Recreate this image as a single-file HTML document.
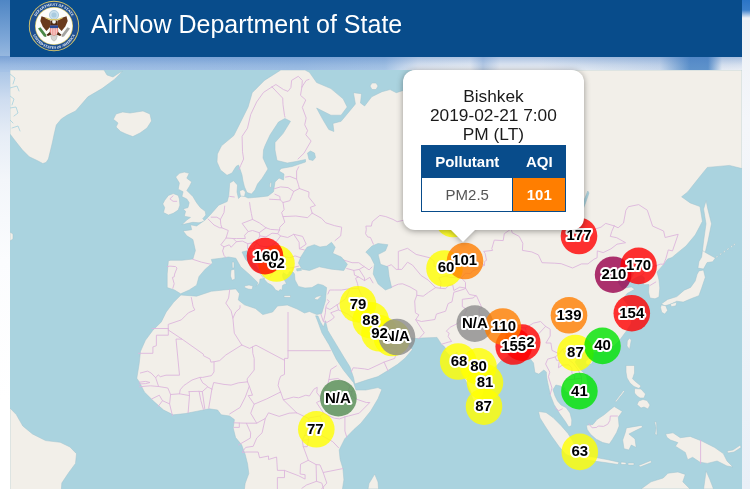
<!DOCTYPE html>
<html><head><meta charset="utf-8"><title>AirNow Department of State</title>
<style>
html,body{margin:0;padding:0}
body{width:750px;height:489px;overflow:hidden;position:relative;font-family:"Liberation Sans",Arial,sans-serif;background:#fff}
#sky{position:absolute;left:0;top:0;width:750px;height:489px;background:linear-gradient(180deg,#4f86c4 0px,#7fa8d8 40px,#a9c5e6 70px,#cfddf0 100px,#e6edf6 135px,#f3f6fa 180px,#fbfcfe 260px,#ffffff 400px)}
#strip{position:absolute;left:0;top:56px;width:750px;height:16px;background:linear-gradient(180deg,rgba(60,115,190,.42) 0px,rgba(60,115,190,.12) 9px,rgba(60,115,190,0) 15px),linear-gradient(90deg,#a5c2e6 0px,#9fbfe4 300px,#a9c6e6 385px,#e9eef5 418px,#f4f6f9 470px,#c3d4ea 483px,#f2f4f8 500px,#f2f4f8 540px,#dde6f1 600px,#cddbed 660px,#5f93cb 690px,#5f93cb 708px,#e8edf4 722px,#eef1f6 750px)}
#right{position:absolute;left:742px;top:0;width:8px;height:489px;background:linear-gradient(180deg,#2a74c6 0px,#3a7fcb 10px,#eef1f6 18px,#f4f6fa 120px,#f1f4f9 300px,#e9eff7 489px)}
#hdr{position:absolute;left:10px;top:0;width:732px;height:56.5px;background:#084c8b}
#hdr .t{position:absolute;left:81px;top:4.5px;font-size:25px;line-height:38px;color:#fff;white-space:nowrap}
#seal{position:absolute;left:18px;top:0px}
#map{position:absolute;left:10px;top:70px;width:732px;height:419px;overflow:hidden;background:#aad3df}
#map svg{position:absolute;left:0;top:0}
.lab text{font:bold 15px "Liberation Sans",Arial,sans-serif;text-anchor:middle;fill:#000;stroke:#fff;stroke-width:4px;stroke-linejoin:round;paint-order:stroke}
#pop{position:absolute;left:402.8px;top:69.8px;width:181.2px;height:160.2px;background:#fff;border-radius:12px;text-align:center;color:#222}
#pop .tx{position:absolute;left:0;top:17.7px;width:100%;font-size:17.3px;line-height:18.8px;color:#1a1a1a}
#pop table{position:absolute;left:18.2px;top:75.2px;width:145px;border-collapse:collapse;font-size:15px}
#pop th{background:#084c8b;color:#fff;height:31px;padding:0;font-weight:bold;border:1px solid #084c8b}
#pop td{height:33px;padding:0;border:1px solid #084c8b;color:#555}
#pop td.v{background:#ff7e00;color:#fff;font-weight:bold}
#pw{position:absolute;left:0;top:0;width:750px;height:489px;filter:drop-shadow(0 1px 3px rgba(0,0,0,.38))}
#tip{position:absolute;left:450.5px;top:229.5px;width:0;height:0;border-left:12.7px solid transparent;border-right:12.7px solid transparent;border-top:12.7px solid #fff}
</style></head><body>
<div id="sky"></div><div id="strip"></div><div id="right"></div>
<div id="hdr">
<svg id="seal" width="52" height="52" viewBox="-26 -26 52 52">
<circle r="25.2" fill="#d8c76a"/><circle r="24.3" fill="#1d4f91"/><circle r="19" fill="#d8c76a"/><circle r="18.3" fill="#fdfdfb"/>
<g font-family="Liberation Serif,serif" font-size="3.6" font-weight="bold" fill="#fff"><text x="-18.02 -16.67 -15.17 -13.63 -11.59 -9.35 -7.17 -3.89 -1.50 1.10 3.48 4.38 7.06 9.07 9.87 11.58 13.48 15.31 16.78" y="-9.43 -11.65 -13.53 -15.10 -16.72 -18.06 -19.07 -19.96 -20.29 -20.31 -20.00 -19.87 -19.06 -18.17 -17.77 -16.71 -15.24 -13.39 -11.49" rotate="-58.7 -51.7 -45.2 -38.4 -31.1 -24.0 -15.8 -7.6 -0.6 6.5 11.1 16.4 23.4 27.8 31.9 38.1 45.2 52.2 59.0">DEPARTMENT OF STATE</text><text x="-20.98 -19.82 -18.38 -17.53 -15.89 -14.08 -11.93 -11.16 -9.38 -7.14 -4.62 -2.25 0.15 2.15 3.05 5.80 7.89 8.74 11.10 13.92 15.75 17.51 18.40 19.82" y="9.02 11.35 13.52 14.63 16.39 17.98 19.44 19.91 20.82 21.69 22.36 22.72 22.82 22.70 22.64 22.08 21.40 21.10 19.99 18.09 16.53 14.62 13.53 11.35" rotate="63.5 56.9 51.9 47.1 41.1 34.8 30.4 26.8 21.2 14.9 8.7 2.6 -2.9 -6.5 -11.2 -17.5 -21.4 -25.8 -33.3 -40.6 -46.9 -51.9 -56.9 -63.5">UNITED STATES OF AMERICA</text></g>
<circle cx="0" cy="-11" r="4.6" fill="#c9e0ee" stroke="#9bbfd6" stroke-width=".7"/>
<circle cx="0" cy="-11" r="2.6" fill="#a9cbe0"/>
<path d="M-3.3 0.6 L-3.9 -5.5 L-8.8 -8.6 L-12.5 -9.8 L-13.7 -4.9 L-11.3 0.6 L-7.6 4.9 Z" fill="#6a3a1c"/>
<path d="M3.3 0.6 L3.9 -5.5 L8.8 -8.6 L12.5 -9.8 L13.7 -4.9 L11.3 0.6 L7.6 4.9 Z" fill="#6a3a1c"/>
<path d="M-3.6 -5.5 L3.6 -5.5 L4.2 6 L7.7 9 L6 10 L2.5 8.5 L0 10 L-2.5 8.5 L-6 10 L-7.7 9 L-4.2 6 Z" fill="#4f2a12"/>
<path d="M-3.4 9.6 L3.4 9.6 L2.2 13.5 L0 15.2 L-2.2 13.5 Z" fill="#d5d5d2" stroke="#9a9a96" stroke-width=".4"/>
<circle cx="0" cy="-4.2" r="1.9" fill="#f4f4f0"/>
<path d="M-4 -0.6 H4 V5.2 Q4 8.4 0 9.8 Q-4 8.4 -4 5.2 Z" fill="#ee8f8a"/>
<path d="M-2.4 2 V8.6 M-0.8 2 V9.4 M0.8 2 V9.4 M2.4 2 V8.6" stroke="#fbe9e7" stroke-width=".7"/>
<rect x="-4" y="-0.6" width="8" height="2.7" fill="#2a4a96"/>
<path d="M-16 2.5 L-13.5 1.2 L-8 8.5 L-7.6 11 L-10 10.5 Z" fill="#4a8746"/>
<path d="M16 2.5 L13.5 1.2 L8 8.5 L7.6 11 L10 10.5 Z" fill="#a3a3a0"/>
<path d="M-8.5 -8.2 Q-4 -5.6 0 -6.6 Q4 -5.6 8.5 -8.2" stroke="#d8c76a" stroke-width="1.1" fill="none"/>
</svg>
<div class="t">AirNow Department of State</div></div>
<div id="map"><svg width="732" height="419" viewBox="10 70 732 419">
<rect x="10" y="70" width="732" height="419" fill="#aad3df"/>
<g fill="#f2efe9" stroke="#9fc3cf" stroke-width=".5" stroke-linejoin="round"><path d="M10.0 70.0 L104.0 70.0 L107.0 75.0 L113.0 77.0 L119.0 73.0 L122.6 71.2 L114.4 79.4 L102.0 88.6 L87.9 96.8 L81.7 104.0 L75.6 111.0 L67.4 115.0 L61.3 119.0 L56.3 125.0 L54.2 134.0 L52.5 142.0 L50.6 150.0 L48.4 159.0 L46.0 162.5 L42.8 163.5 L37.1 160.5 L29.3 156.8 L22.5 150.0 L16.9 143.0 L13.0 138.0 L10.0 134.0Z"/><path d="M113.4 119.3 L116.0 114.0 L122.6 112.0 L130.0 113.0 L143.0 111.0 L150.0 114.0 L151.5 121.0 L147.0 128.0 L140.0 133.0 L132.8 136.6 L126.0 134.0 L120.6 131.5 L116.0 127.0 L118.0 123.0Z"/><path d="M10.0 408.0 L16.3 414.6 L22.8 426.0 L32.5 434.0 L45.6 440.6 L60.2 442.3 L70.0 447.0 L76.5 453.7 L75.5 463.4 L68.3 473.2 L61.8 483.0 L61.2 492.0 L10.0 492.0Z"/><path d="M10.0 232.0 L13.0 234.0 L13.0 239.0 L10.0 241.0Z"/><path d="M179.4 173.3 L184.3 172.1 L189.2 173.3 L186.8 178.2 L191.7 181.9 L189.2 186.8 L186.8 190.5 L192.9 196.6 L196.6 202.7 L200.3 207.6 L205.2 211.3 L205.9 215.0 L202.7 218.7 L205.2 221.1 L199.0 222.8 L192.9 222.3 L186.8 223.6 L181.9 224.8 L186.8 219.9 L190.5 217.4 L184.3 216.2 L185.6 211.3 L183.1 208.9 L188.0 207.6 L189.2 202.7 L186.8 199.0 L181.9 196.6 L183.1 191.7 L178.2 189.2 L179.4 183.1 L175.7 177.0Z"/><path d="M164.7 200.3 L168.4 195.4 L173.3 193.6 L178.2 195.4 L179.4 199.0 L179.9 205.2 L178.2 210.1 L173.3 213.3 L168.4 215.0 L163.5 212.5 L164.7 207.6 L162.8 203.9Z"/><path d="M280.8 70.0 L264.4 80.4 L252.2 92.7 L248.1 107.0 L239.9 123.4 L233.8 135.6 L221.5 145.8 L217.4 154.0 L217.0 162.0 L220.5 170.0 L227.0 175.3 L232.0 173.0 L236.0 166.5 L238.5 165.0 L240.0 169.0 L242.0 175.0 L243.0 181.0 L244.5 187.0 L247.0 192.5 L251.5 194.0 L255.0 190.0 L257.5 184.0 L262.0 178.5 L268.0 169.0 L263.0 158.0 L263.5 150.0 L265.0 145.8 L270.0 135.0 L278.5 122.0 L284.9 118.5 L290.5 121.3 L283.0 133.6 L275.0 142.5 L275.0 150.0 L277.0 160.5 L287.3 163.0 L296.0 161.5 L305.5 159.5 L305.5 162.0 L292.2 166.5 L281.2 168.4 L279.0 171.0 L284.0 174.0 L283.5 180.0 L279.0 178.0 L275.0 181.9 L273.5 191.7 L268.0 196.0 L260.3 196.9 L248.0 198.0 L242.0 195.0 L238.5 198.5 L237.0 192.0 L237.5 185.0 L233.5 180.7 L229.7 183.1 L228.8 195.4 L227.2 201.5 L218.7 205.2 L210.1 215.0 L205.2 219.9 L196.6 226.0 L190.5 224.8 L191.7 229.7 L183.1 230.9 L186.8 235.8 L192.9 239.5 L195.4 250.5 L192.9 259.0 L181.9 260.3 L170.8 260.3 L168.4 260.7 L167.2 274.0 L167.2 287.6 L174.5 290.0 L180.7 293.8 L189.2 290.0 L196.6 285.2 L199.0 276.6 L205.2 269.2 L212.5 263.0 L211.3 259.4 L221.1 258.2 L228.5 257.0 L235.8 258.2 L240.7 266.8 L250.5 275.4 L257.9 282.7 L256.0 286.5 L259.5 283.0 L260.0 279.0 L265.0 278.5 L262.0 274.0 L255.4 270.5 L245.6 259.4 L242.0 252.0 L246.9 250.8 L249.0 255.0 L253.0 261.9 L259.0 270.0 L260.5 274.0 L264.0 279.0 L267.5 283.0 L271.5 285.0 L273.5 287.0 L275.5 290.0 L278.5 291.3 L280.0 289.5 L282.0 290.3 L282.5 285.5 L284.5 284.2 L286.6 284.0 L285.0 281.0 L283.0 278.0 L282.5 275.0 L283.4 272.7 L286.5 274.8 L288.8 273.8 L289.0 271.8 L293.0 272.0 L294.5 274.0 L295.0 280.0 L298.4 286.4 L305.0 288.0 L311.9 287.6 L318.0 284.0 L322.9 285.2 L326.6 287.6 L325.4 301.0 L321.7 313.4 L316.8 314.6 L309.4 311.5 L304.5 313.0 L297.1 309.0 L287.3 305.0 L277.5 306.0 L272.6 312.0 L262.8 314.6 L255.4 308.5 L244.4 304.8 L238.3 299.9 L239.5 293.8 L235.8 288.9 L223.6 290.0 L211.3 291.3 L196.6 296.2 L180.9 295.0 L173.6 302.3 L166.2 312.0 L161.3 321.9 L152.7 330.5 L145.4 340.3 L140.5 351.3 L139.2 363.6 L136.8 378.3 L139.6 382.4 L144.4 392.0 L154.0 401.6 L163.6 410.0 L173.2 414.8 L185.2 413.6 L197.2 411.2 L209.2 408.8 L217.6 410.0 L221.2 414.8 L229.6 416.0 L234.4 419.6 L233.2 428.0 L235.6 437.6 L241.6 444.8 L245.2 454.4 L247.6 464.0 L248.8 473.6 L245.2 483.2 L244.0 492.0 L342.0 492.0 L343.9 479.7 L342.9 468.5 L340.1 459.2 L339.2 449.9 L344.8 438.7 L354.1 429.3 L360.9 423.2 L370.7 411.0 L378.0 398.7 L381.8 389.5 L378.0 387.6 L365.8 390.0 L356.0 390.0 L353.6 382.7 L343.8 370.5 L336.4 359.4 L329.0 344.7 L322.0 333.0 L318.0 322.0 L315.6 315.8 L318.0 316.0 L320.5 322.0 L323.5 327.0 L325.4 320.7 L327.8 330.5 L336.4 344.7 L343.8 357.0 L349.9 366.8 L353.6 377.8 L354.8 384.0 L365.8 380.3 L378.0 376.6 L387.9 370.5 L397.7 364.3 L405.0 358.2 L412.4 349.6 L407.2 344.6 L399.7 339.5 L399.4 334.4 L397.9 336.4 L393.0 341.9 L385.8 342.2 L382.6 341.1 L382.6 335.2 L380.5 335.2 L379.8 339.9 L377.7 337.1 L377.3 332.4 L372.7 328.4 L370.2 323.1 L369.5 319.5 L372.0 318.2 L376.2 318.2 L379.8 323.1 L382.3 327.6 L386.2 329.6 L393.7 332.8 L399.0 330.8 L401.8 332.0 L402.9 336.8 L417.0 338.6 L422.0 338.0 L437.0 337.4 L441.8 344.7 L443.8 346.1 L446.3 349.2 L444.5 350.0 L449.5 355.3 L455.6 354.2 L457.0 351.9 L458.0 362.1 L461.6 373.3 L466.6 382.5 L470.5 390.9 L472.6 398.9 L474.8 402.1 L477.3 399.2 L480.8 397.8 L483.3 393.8 L484.7 384.0 L484.0 375.6 L489.0 371.9 L495.4 367.0 L501.4 360.6 L507.8 356.5 L508.6 352.7 L513.2 351.9 L521.0 349.6 L525.6 349.6 L527.4 355.3 L533.5 362.9 L534.9 372.6 L538.8 374.1 L543.8 370.0 L546.3 371.9 L546.6 377.0 L547.6 382.3 L550.4 395.2 L554.0 404.4 L559.6 413.6 L565.0 421.0 L568.8 427.0 L571.5 425.5 L571.8 420.0 L570.0 413.0 L566.0 407.5 L561.0 405.0 L557.5 401.0 L555.0 396.0 L553.0 389.7 L555.9 385.0 L560.5 386.0 L563.0 388.0 L565.5 391.6 L570.8 393.8 L571.9 400.3 L577.9 395.2 L581.5 393.4 L587.5 388.7 L587.9 384.4 L586.5 375.9 L581.5 370.7 L577.9 366.6 L575.1 362.1 L578.6 356.5 L582.5 352.7 L585.0 352.3 L589.3 352.7 L591.4 357.2 L592.1 353.4 L602.8 350.0 L605.3 349.6 L614.2 345.7 L619.0 341.0 L626.4 331.0 L631.0 324.0 L632.0 317.0 L630.0 312.0 L629.1 306.5 L623.1 298.8 L627.0 293.6 L634.8 289.2 L631.3 286.9 L622.4 288.3 L618.1 282.4 L618.8 279.2 L624.2 276.4 L629.5 271.8 L633.8 273.2 L630.2 281.0 L638.4 276.4 L641.6 275.5 L644.4 277.8 L643.7 284.7 L649.0 284.5 L648.5 292.0 L650.0 298.0 L655.0 298.8 L659.0 297.0 L659.8 288.0 L659.0 280.0 L657.0 272.0 L663.2 264.9 L667.6 259.0 L672.0 257.5 L676.8 253.4 L686.0 246.0 L695.2 235.0 L700.0 226.0 L702.4 221.3 L700.0 206.6 L690.2 202.9 L681.6 196.8 L687.7 191.9 L697.5 179.6 L707.3 167.4 L729.4 165.4 L742.0 168.6 L742.0 70.0 L412.0 70.0 L412.0 90.7 L402.4 90.7 L396.3 92.7 L390.1 89.6 L382.0 91.7 L371.7 96.8 L364.6 106.0 L360.5 103.0 L361.5 93.7 L353.4 92.7 L355.4 104.0 L351.3 109.0 L341.1 121.3 L332.9 123.4 L333.9 131.5 L328.8 129.5 L322.7 119.3 L316.6 108.0 L330.9 115.2 L341.1 115.2 L347.2 107.0 L343.1 98.8 L330.9 88.6 L316.6 82.5 L309.4 72.3 L305.0 70.0Z"/><path d="M244.4 286.0 L249.0 285.0 L253.0 286.0 L252.0 289.5 L248.0 289.0 L244.6 287.5Z"/><path d="M231.0 270.0 L234.6 269.2 L235.0 279.0 L232.0 280.3 L230.5 276.0Z"/><path d="M232.1 262.0 L234.0 262.0 L234.0 268.0 L232.3 268.0Z"/><path d="M284.0 295.5 L290.5 295.5 L290.5 297.5 L284.0 297.3Z"/><path d="M314.5 298.0 L317.0 296.5 L322.0 295.3 L319.5 298.0 L317.5 299.8 L315.0 299.5Z"/><path d="M370.0 86.0 L372.0 83.0 L376.0 83.0 L378.0 86.0 L376.0 89.5 L372.0 89.5Z"/><path d="M239.5 191.0 L243.0 189.5 L245.5 192.0 L244.5 196.5 L240.5 196.0Z"/><path d="M270.0 183.0 L271.5 182.0 L271.0 187.5 L269.5 187.0Z"/><path d="M715.6 257.3 L717.1 255.7 L718.2 256.1 L716.7 257.7Z"/><path d="M719.3 254.7 L720.8 253.1 L721.9 253.5 L720.4 255.1Z"/><path d="M723.0 252.2 L724.5 250.6 L725.6 251.0 L724.1 252.6Z"/><path d="M726.6 249.6 L728.1 248.0 L729.2 248.4 L727.7 250.0Z"/><path d="M730.3 247.0 L731.8 245.4 L732.9 245.8 L731.4 247.4Z"/><path d="M732.9 245.2 L734.4 243.6 L735.5 244.0 L734.0 245.6Z"/><path d="M706.1 200.5 L707.8 209.0 L711.5 223.8 L708.0 241.0 L704.5 255.6 L702.0 254.4 L703.6 241.0 L706.0 223.8 L703.6 209.0Z"/><path d="M702.5 250.6 L707.1 253.4 L715.4 258.0 L712.7 261.7 L707.1 262.6 L703.5 269.0 L697.9 268.1 L698.9 261.7 L701.6 257.1Z"/><path d="M698.9 270.9 L703.5 270.0 L705.3 277.3 L701.6 288.3 L698.9 295.7 L691.5 298.5 L683.2 302.1 L676.8 301.2 L671.3 304.0 L664.8 305.8 L661.2 304.0 L667.6 299.4 L676.8 296.6 L684.2 290.2 L690.6 287.4 L695.2 281.0 L697.0 274.6Z"/><path d="M661.2 304.9 L665.8 305.8 L667.6 310.4 L664.8 314.1 L661.7 312.3 L660.6 307.7Z"/><path d="M670.4 304.0 L676.8 302.1 L675.9 305.8 L671.3 306.7Z"/><path d="M629.5 338.0 L631.3 340.0 L629.5 349.5 L627.0 346.0 L627.3 341.0Z"/><path d="M585.7 361.0 L588.9 358.4 L593.9 359.5 L591.8 363.6 L588.2 365.1 L585.7 363.6Z"/><path d="M626.0 365.5 L634.5 365.5 L634.5 373.0 L632.5 378.8 L636.0 382.0 L641.0 386.0 L639.0 388.5 L634.0 386.5 L630.0 383.0 L627.0 378.0 L626.0 372.0Z"/><path d="M634.5 388.6 L641.0 389.0 L645.5 394.0 L644.0 398.0 L640.0 398.0 L637.0 396.0 L634.5 393.0Z"/><path d="M638.7 401.0 L643.0 399.5 L647.0 400.5 L650.0 405.0 L648.0 409.0 L644.0 407.0 L641.0 408.0 L637.0 404.5Z"/><path d="M615.0 401.5 L623.5 390.5 L624.5 391.5 L616.2 402.0Z"/><path d="M614.2 406.5 L622.4 411.4 L618.3 417.1 L619.1 426.1 L616.6 432.6 L612.6 439.2 L609.3 444.1 L602.7 442.5 L596.2 439.2 L590.5 434.3 L587.2 429.4 L586.4 425.3 L592.9 424.5 L597.0 419.5 L604.4 414.6 L610.1 409.7Z"/><path d="M626.4 427.9 L641.1 425.4 L643.0 427.0 L636.2 430.3 L628.9 434.0 L635.0 438.9 L636.2 447.5 L631.3 445.0 L628.9 450.0 L624.0 448.7 L622.7 440.0 L625.2 432.8Z"/><path d="M654.6 421.7 L656.5 422.0 L657.0 435.2 L655.0 434.0 L656.0 428.0Z"/><path d="M665.6 434.0 L673.0 432.8 L680.3 437.7 L690.2 436.4 L702.4 441.3 L714.7 447.5 L723.3 453.6 L727.0 461.0 L733.0 467.0 L727.0 466.0 L717.1 461.0 L707.3 463.4 L700.0 462.2 L692.6 457.3 L687.7 459.7 L685.3 452.4 L675.4 446.2 L677.9 442.6 L670.5 440.0 L667.0 437.5Z"/><path d="M727.0 451.0 L733.0 450.0 L740.4 445.0 L741.0 447.5 L734.0 452.0 L728.0 453.0Z"/><path d="M538.5 411.5 L546.0 412.5 L553.0 417.5 L561.0 425.5 L568.0 433.5 L573.0 441.5 L576.5 450.0 L577.0 456.0 L572.0 457.0 L566.0 454.5 L559.0 446.5 L551.5 436.0 L545.0 426.0 L540.0 418.0Z"/><path d="M573.0 454.0 L580.0 455.0 L594.5 457.3 L607.0 459.5 L619.0 462.2 L618.0 464.5 L605.0 462.5 L590.0 460.5 L575.0 457.5Z"/><path d="M621.0 462.0 L626.0 462.5 L626.0 464.5 L621.0 464.5Z"/><path d="M628.0 463.0 L634.0 463.0 L634.0 465.0 L628.0 465.0Z"/><path d="M638.7 465.5 L650.9 460.5 L651.5 462.5 L640.0 467.0Z"/><path d="M641.0 489.0 L651.0 481.8 L663.2 478.0 L668.0 473.2 L677.9 472.0 L685.3 474.4 L682.8 481.8 L690.0 489.0Z"/><path d="M703.6 489.0 L706.1 470.8 L709.8 479.3 L713.5 489.0Z"/><path d="M368.0 489.0 L369.0 483.5 L374.7 474.1 L378.0 482.0 L378.6 489.0Z"/><path d="M482.9 396.7 L487.9 400.7 L490.1 406.0 L486.1 409.6 L483.7 408.5 L482.9 402.5Z"/></g>
<g fill="none" stroke="#aad3df" stroke-width="1" stroke-opacity=".85" stroke-linecap="round"><path d="M10 74 L15 78 L13 84"/><path d="M10 88 L17 86 L19 91"/><path d="M10 96 L14 99 L12 105"/><path d="M10 108 L16 107 L18 113 L14 116"/><path d="M10 120 L13 123"/><path d="M12 128 L18 126 L20 131"/></g>
<g fill="none" stroke="#dcb6dc" stroke-width=".9" stroke-linejoin="round" stroke-linecap="round"><path d="M272.0 86.9 L263.5 92.4 L256.7 101.9 L250.7 114.5 L247.5 128.2 L242.1 136.3 L242.5 151.7 L243.6 159.0 L240.7 165.4 L238.9 169.6"/><path d="M272.0 86.9 L275.9 84.5 L283.4 89.5 L288.0 91.4 L290.9 87.5 L291.6 80.4 L298.3 76.3 L302.3 80.4 L301.9 87.0"/><path d="M301.9 87.0 L306.2 80.4 L309.0 79.4"/><path d="M272.0 86.9 L282.7 98.1 L283.0 104.7 L284.5 115.4 L285.0 117.1"/><path d="M301.9 87.0 L300.5 95.3 L305.8 100.0 L302.3 107.4 L306.2 118.0 L304.7 124.8 L307.6 130.6 L305.8 134.7 L311.1 141.0 L304.0 153.2 L298.0 159.0"/><path d="M298.7 166.8 L296.6 171.0 L296.6 179.1 L298.3 184.3 L299.4 188.5"/><path d="M285.5 177.1 L289.8 176.4 L296.6 179.1"/><path d="M274.0 188.8 L280.6 186.9 L288.0 187.6 L293.7 191.4 L299.4 188.5"/><path d="M293.7 191.4 L291.6 196.4 L289.8 200.7 L283.0 202.5 L280.2 199.8 L269.5 199.2"/><path d="M280.2 199.8 L279.8 196.4 L274.9 194.2"/><path d="M299.4 188.5 L309.0 192.0 L308.7 197.0 L315.4 205.5 L310.4 207.3 L312.2 213.1"/><path d="M312.2 213.1 L307.6 217.7 L295.9 216.0 L283.0 216.6"/><path d="M283.0 202.5 L284.1 209.6 L281.6 212.6 L283.0 216.6 L284.8 222.2 L279.8 227.2 L279.5 230.0"/><path d="M312.2 213.1 L321.5 218.3 L325.7 222.8 L334.3 225.6 L341.7 227.2 L340.7 235.9 L335.0 240.6"/><path d="M249.6 202.5 L250.3 207.9 L251.4 213.7 L252.5 219.4 L259.2 222.8 L266.0 227.8 L270.6 229.4 L279.5 230.0"/><path d="M252.5 219.4 L242.1 223.4 L248.2 231.6 L252.5 230.5 L259.2 232.7 L266.0 227.8"/><path d="M248.2 231.6 L244.6 235.3 L245.3 238.5 L236.4 238.5 L233.2 238.5 L226.1 238.0"/><path d="M229.7 196.4 L234.3 197.0"/><path d="M224.7 206.1 L224.0 212.6 L220.4 219.4 L216.9 217.2 L211.2 217.2"/><path d="M220.4 219.4 L220.8 224.5 L221.9 227.8"/><path d="M208.0 218.9 L214.0 225.0 L219.7 227.8 L221.9 227.8 L228.3 230.5 L226.1 238.0 L220.8 244.8 L224.0 246.8 L222.6 250.9 L224.0 255.4 L225.8 257.4"/><path d="M233.2 238.5 L236.4 241.7 L231.1 247.3 L229.3 244.8 L224.0 246.8"/><path d="M236.4 241.7 L242.5 241.1 L247.8 243.7 L247.5 248.3"/><path d="M247.8 243.7 L256.4 242.2 L259.9 235.9 L259.2 232.7"/><path d="M259.9 235.9 L266.0 236.9 L272.0 233.2 L277.7 233.7 L279.5 230.0"/><path d="M277.7 233.7 L280.6 235.9 L275.6 242.7 L271.3 245.8 L266.3 246.8 L259.6 245.8 L257.4 243.2 L256.4 242.2"/><path d="M247.5 248.8 L253.5 248.8 L254.9 245.3 L257.4 243.2"/><path d="M255.3 250.4 L259.6 250.4 L266.7 251.9 L266.3 246.8"/><path d="M255.3 250.4 L256.7 255.4 L261.7 261.3 L264.9 263.7"/><path d="M266.7 251.9 L268.1 256.4 L267.4 258.8 L264.9 263.7"/><path d="M271.3 245.8 L275.2 252.4 L279.1 252.9 L279.8 255.4 L278.8 261.3 L278.8 264.7"/><path d="M280.6 235.9 L287.7 237.5 L293.7 234.3 L299.1 242.2 L299.4 248.8 L304.4 249.9"/><path d="M293.7 234.3 L302.6 236.4 L306.2 244.2 L299.4 248.8"/><path d="M279.8 255.4 L289.8 257.8 L295.1 255.9 L300.8 257.8"/><path d="M298.7 266.1 L293.0 267.5 L286.2 268.5 L280.6 269.4 L273.4 271.3"/><path d="M293.0 267.5 L291.6 272.3"/><path d="M272.0 270.8 L273.8 265.6 L278.8 264.7 L280.6 269.4"/><path d="M268.1 266.8 L270.6 263.2 L273.8 265.6"/><path d="M272.0 270.8 L273.8 271.8 L270.2 276.9"/><path d="M267.4 258.8 L271.3 261.8 L270.6 263.2"/><path d="M167.4 266.6 L169.9 266.1 L175.6 266.6 L177.0 268.0 L174.6 274.1 L174.2 276.9 L172.4 277.4 L174.2 283.8 L172.8 288.3"/><path d="M192.7 259.3 L201.6 262.2 L210.5 264.2"/><path d="M173.1 195.8 L169.9 198.8 L173.1 201.3 L176.7 201.3"/><path d="M346.7 268.5 L353.8 270.4 L354.5 275.1 L358.5 276.9 L355.6 278.3 L357.4 283.3 L358.5 288.3 L349.9 288.7 L341.4 290.0 L334.3 290.0 L329.6 290.0 L327.9 294.0"/><path d="M341.4 259.3 L352.1 262.7 L358.8 262.7 L364.1 266.6 L369.1 269.9 L372.0 267.0"/><path d="M353.8 270.4 L359.2 269.4 L364.1 266.6"/><path d="M359.2 269.4 L364.5 277.8 L364.5 280.6"/><path d="M358.5 276.9 L364.5 280.6 L369.8 277.4 L373.0 282.9"/><path d="M349.9 288.7 L345.6 298.8 L337.1 304.8 L330.0 309.5 L326.4 307.8"/><path d="M337.1 304.8 L338.5 309.9 L330.7 312.8 L334.3 317.0 L332.5 319.1 L327.2 322.3 L323.6 321.7"/><path d="M323.6 321.1 L325.4 312.8 L325.7 307.8 L326.4 305.3 L329.3 301.4 L327.2 299.7"/><path d="M323.2 321.1 L320.9 314.1"/><path d="M338.5 309.9 L348.5 314.5 L358.1 322.3 L364.7 322.7 L368.8 318.6 L369.8 319.1"/><path d="M364.7 322.7 L368.1 325.0 L371.3 325.0"/><path d="M358.5 288.3 L360.6 293.6 L363.4 297.5 L360.9 300.1 L362.7 306.5 L368.8 310.8 L369.5 314.9 L369.8 317.0 L371.8 319.3"/><path d="M351.3 371.9 L353.1 367.8 L357.4 368.1 L364.5 368.9 L368.1 369.6 L384.1 362.1 L394.7 358.4 L397.2 350.7 L395.4 348.1 L386.2 347.1 L382.6 342.2"/><path d="M395.4 348.1 L398.3 343.0 L399.7 339.5"/><path d="M384.1 362.1 L388.0 370.9"/><path d="M390.8 287.6 L394.0 286.0 L398.3 284.2 L402.6 283.8 L410.0 286.9 L416.8 290.9 L416.8 295.3 L414.7 301.0 L415.4 312.8 L418.9 314.9 L415.7 319.7 L422.5 330.4 L424.3 332.8 L418.9 338.7 L418.2 338.3"/><path d="M415.7 319.7 L421.4 321.5 L434.9 319.5 L436.4 314.1 L445.6 311.2 L448.1 303.6 L452.0 301.8 L453.8 292.3 L464.1 289.2 L465.5 288.1"/><path d="M416.8 295.3 L423.2 296.2 L428.5 292.3 L435.6 287.6 L440.3 288.3 L445.6 288.7 L448.8 285.1 L452.7 284.7 L453.8 290.5 L459.8 287.1 L465.5 288.1"/><path d="M435.6 287.6 L428.2 280.1 L421.1 275.5 L412.5 265.1 L407.5 262.2 L401.8 269.4 L398.3 269.4"/><path d="M385.8 267.0 L391.2 264.7 L396.2 269.4 L398.3 269.4 L398.3 251.4 L407.5 248.3 L416.1 254.4 L429.9 257.8 L434.2 261.3 L433.9 266.1 L435.6 266.6 L441.0 270.8 L444.5 269.0 L449.9 266.1 L451.6 264.9"/><path d="M451.6 264.9 L452.4 262.2 L460.5 264.2 L460.5 261.3 L463.4 260.3 L468.7 261.8 L480.5 262.2 L484.4 265.1"/><path d="M484.4 265.1 L478.0 269.0 L472.6 270.8 L470.5 273.7 L465.5 273.2 L461.3 277.8 L465.5 282.4 L465.5 288.1"/><path d="M461.3 277.8 L449.9 277.4 L445.6 276.0 L450.2 274.6 L449.9 270.8 L454.1 268.5 L448.8 268.0 L451.6 264.9"/><path d="M440.3 288.3 L441.0 282.4 L438.8 277.8 L445.6 276.0"/><path d="M484.4 265.1 L484.7 261.3 L486.5 260.3 L485.1 253.4 L483.7 251.4 L492.6 250.4 L491.8 248.6 L494.3 240.1 L503.2 240.6 L504.3 233.7 L509.6 230.0"/><path d="M417.5 220.6 L410.7 222.0 L407.5 219.4 L397.2 221.7 L393.0 219.4 L385.8 216.6 L379.8 215.4 L372.3 221.7 L371.3 226.1 L365.9 226.1 L366.3 229.4 L365.6 233.7 L367.7 236.9 L370.5 237.5 L373.4 244.2"/><path d="M511.4 229.4 L512.1 232.7 L519.2 236.4 L522.8 243.2 L522.4 250.4 L531.7 251.9 L538.4 254.9 L542.0 262.7 L554.8 263.2 L561.2 263.7 L572.6 268.0 L581.5 263.9 L587.9 263.9 L593.9 259.3 L597.1 257.8 L597.3 250.9 L603.2 252.6 L611.0 248.8 L617.0 244.2 L625.6 242.7 L616.7 237.7 L610.3 236.4 L611.7 231.6 L614.2 225.9"/><path d="M550.9 213.1 L562.6 217.7 L563.0 221.7 L568.0 224.5 L574.0 222.8 L579.7 226.7 L585.0 228.9 L592.9 229.7 L601.0 227.2 L605.7 223.4 L614.2 225.9"/><path d="M614.2 225.9 L618.1 227.8 L623.5 223.1 L625.9 210.2 L628.4 206.7 L638.7 204.6 L647.3 210.2 L652.6 226.1 L663.6 231.0 L665.1 237.5 L678.2 234.3 L672.5 250.9 L668.3 249.9 L665.8 258.8 L663.6 264.2"/><path d="M663.6 264.2 L660.4 264.2 L654.4 266.1 L650.5 267.0 L641.6 275.5"/><path d="M649.8 285.6 L655.8 282.0"/><path d="M583.3 352.7 L578.6 347.7 L573.7 345.7 L562.6 349.2 L559.1 353.8 L552.0 350.4 L550.9 343.0 L545.9 343.0 L550.2 336.0 L550.2 329.2 L545.6 326.4"/><path d="M545.6 326.4 L537.4 335.2 L535.6 338.7 L531.0 343.0 L531.3 350.0 L528.5 353.4 L527.4 355.7"/><path d="M545.6 326.4 L540.6 321.5 L533.5 323.1 L525.3 328.0 L515.0 327.2 L512.5 327.6 L505.0 327.2 L497.9 323.5 L490.8 317.8 L487.2 318.2 L479.4 314.1 L479.0 308.6 L481.9 307.8 L476.5 295.8 L469.4 294.5 L465.5 288.1"/><path d="M487.2 318.2 L484.0 324.0 L490.4 327.6 L495.4 329.6 L501.4 332.4 L512.5 333.6 L512.5 327.6"/><path d="M515.0 327.2 L515.7 332.0 L526.3 332.0 L525.3 328.0"/><path d="M441.7 344.2 L448.1 342.2 L451.6 341.5 L448.1 336.4 L449.2 333.2 L446.3 331.2 L450.2 327.2 L458.4 323.1 L462.3 317.0 L464.5 314.5 L466.9 309.5 L462.3 306.5 L462.3 299.3 L473.0 298.0 L475.8 295.8"/><path d="M512.5 333.6 L515.7 334.4 L515.0 341.9 L515.7 351.1"/><path d="M527.4 355.7 L527.1 344.2 L523.5 342.6 L527.8 339.1 L518.5 337.9 L518.5 334.4"/><path d="M559.1 353.8 L555.2 357.0 L547.7 359.1 L545.6 364.0 L549.8 372.2 L548.4 376.7 L552.0 388.0 L550.2 394.5"/><path d="M555.2 357.0 L556.6 360.3 L559.4 360.3 L558.4 367.8 L562.3 365.1 L569.0 364.8 L571.9 368.1 L571.9 373.3 L574.7 375.6 L574.4 379.2"/><path d="M562.6 349.2 L565.5 355.3 L571.2 356.9 L569.0 359.9 L573.3 363.3 L578.3 370.0 L581.5 377.0 L581.5 378.1"/><path d="M574.4 379.2 L565.5 380.0 L563.7 382.2 L563.3 386.5 L565.1 389.1"/><path d="M574.4 379.2 L581.5 378.1 L581.5 386.9 L576.1 388.7 L575.4 391.6 L570.6 393.8"/><path d="M555.2 407.8 L558.7 410.7 L562.3 408.9"/><path d="M588.9 423.9 L592.1 427.8 L596.8 427.4 L598.2 426.0 L603.5 426.4 L607.8 424.2 L609.9 420.3 L610.3 416.0 L617.4 416.0"/><path d="M700.6 440.3 L700.6 463.5"/><path d="M191.3 297.5 L193.1 306.5 L194.8 309.9 L188.4 312.8 L185.9 315.3 L181.3 319.9 L168.2 324.4 L168.3 330.0"/><path d="M152.1 328.5 L168.3 328.5"/><path d="M168.3 330.0 L168.3 335.2 L156.4 335.2 L156.4 345.7 L152.9 346.9 L152.9 353.3 L138.6 353.3"/><path d="M168.3 330.0 L182.0 339.1 L176.0 339.1 L179.5 375.2 L166.0 375.2 L160.3 376.7 L158.2 374.8 L155.7 377.8 L151.1 373.0 L147.5 371.1 L140.4 373.0"/><path d="M182.0 339.1 L203.4 354.2 L203.4 355.7 L210.1 359.1 L210.8 362.1 L214.0 361.8 L219.7 360.6 L225.8 355.0 L241.8 345.0"/><path d="M241.8 345.0 L234.3 333.2 L232.9 318.2 L231.1 310.8 L225.8 303.1 L228.6 298.0 L229.7 289.6"/><path d="M232.9 318.2 L235.7 312.0 L240.0 308.2 L240.0 305.7"/><path d="M241.8 345.0 L249.6 348.4 L252.5 346.9 L256.0 345.2 L284.5 360.3 L284.5 358.4 L288.0 358.4 L288.0 350.7 L288.0 312.4"/><path d="M288.0 350.7 L330.4 350.7"/><path d="M252.5 346.9 L252.8 353.4 L254.2 358.4 L254.2 370.0 L247.1 378.9 L247.5 381.8"/><path d="M284.5 360.3 L284.5 374.4 L280.6 376.3 L279.1 380.3 L278.1 385.5 L280.6 392.0"/><path d="M214.0 361.8 L214.0 371.9 L211.5 375.6 L202.7 377.4 L199.8 377.4 L192.0 380.0 L186.7 383.6 L183.8 385.5 L180.2 389.8 L179.5 393.8"/><path d="M211.9 389.1 L213.7 382.5 L224.0 384.4 L231.1 385.1 L238.2 382.9 L247.5 381.8"/><path d="M211.9 389.1 L207.6 386.9 L206.6 385.5 L202.7 382.9 L199.8 377.4"/><path d="M155.7 377.8 L158.6 386.5 L150.4 385.8 L139.7 386.7"/><path d="M139.3 382.2 L145.7 381.4 L150.0 382.5 L145.7 383.6 L139.3 384.0"/><path d="M158.6 386.5 L167.8 388.0 L170.6 394.5 L169.6 403.9 L162.5 400.7 L159.3 395.2 L151.8 398.9"/><path d="M162.5 400.7 L158.2 406.4"/><path d="M169.6 403.9 L172.4 415.5"/><path d="M170.6 394.5 L179.5 393.8 L189.5 395.6 L188.1 412.8"/><path d="M189.1 391.6 L199.1 391.3 L200.9 400.7 L203.4 409.3"/><path d="M189.5 395.6 L189.1 391.6"/><path d="M199.1 391.3 L202.3 391.6 L204.8 408.9"/><path d="M202.3 391.6 L207.6 386.9"/><path d="M211.9 389.1 L208.7 408.2"/><path d="M247.5 381.8 L249.3 386.2 L245.3 397.1 L240.0 407.5 L229.7 413.9"/><path d="M249.3 386.2 L252.5 395.2 L248.2 395.6 L254.2 404.2 L266.7 398.9 L280.6 392.0"/><path d="M254.2 404.2 L250.7 413.2 L256.7 423.2 L246.4 423.2 L234.0 422.8"/><path d="M239.3 423.2 L239.3 427.4 L234.0 427.4"/><path d="M246.4 423.2 L250.7 432.8 L250.3 438.1 L238.6 444.9"/><path d="M256.7 423.2 L265.3 418.5 L262.1 432.8 L256.7 438.1 L253.2 446.3 L245.7 447.4 L242.5 451.7"/><path d="M265.3 418.5 L268.5 412.8 L279.1 416.4 L289.1 413.2 L296.6 412.8"/><path d="M280.6 392.0 L283.4 399.9 L296.6 412.8"/><path d="M283.4 399.9 L293.4 397.1 L298.7 397.8 L305.8 395.2 L309.4 396.0 L314.0 389.1 L317.2 387.3 L316.8 392.7 L320.4 397.1"/><path d="M320.4 400.7 L320.4 397.1 L323.6 391.6 L327.5 385.5 L328.9 379.6 L330.7 369.6 L336.4 365.9"/><path d="M328.9 379.6 L337.8 378.5 L344.9 382.5 L349.9 386.2 L347.8 391.6 L352.1 391.6 L353.1 389.8"/><path d="M352.1 391.6 L351.3 395.2 L355.6 398.9 L366.3 402.5 L369.8 402.5 L359.2 413.2 L348.5 416.0 L344.9 416.9"/><path d="M344.9 416.9 L339.6 418.9 L334.3 418.2 L327.2 415.2 L323.6 413.2 L316.5 402.5 L320.4 400.7"/><path d="M344.9 416.9 L344.9 431.0 L346.7 437.0"/><path d="M323.6 413.2 L320.0 416.0 L323.6 425.0 L320.0 430.3 L320.0 434.6 L332.8 441.7 L338.5 447.7"/><path d="M320.0 416.0 L309.4 417.8 L308.7 418.5 L296.6 412.8"/><path d="M308.7 418.5 L309.4 423.2 L304.4 436.0 L307.6 434.6 L320.0 434.6"/><path d="M307.6 434.6 L308.7 439.5 L307.2 446.7 L303.3 446.7 L302.3 440.6 L304.4 436.0"/><path d="M302.3 440.6 L308.7 439.5"/><path d="M303.3 446.7 L308.3 460.3 L300.5 464.2 L300.1 474.0 L305.1 474.7 L305.1 479.1 L298.7 475.8 L284.5 470.4 L284.5 477.6 L277.4 477.6 L277.4 489.4"/><path d="M242.5 452.4 L246.8 452.0 L258.1 452.0 L259.6 457.8 L268.5 456.0 L268.5 459.5 L276.6 457.0 L277.4 470.4 L284.5 470.4"/><path d="M308.3 460.3 L316.1 464.6 L320.0 464.9 L323.2 472.5 L342.8 468.6"/><path d="M316.1 464.6 L316.5 481.3 L306.5 485.0 L301.9 488.3"/><path d="M323.2 472.5 L326.8 483.1 L321.8 488.7"/><path d="M316.5 481.3 L321.8 483.1 L323.6 489.0"/></g>
<g fill="#aad3df" stroke="#9fc3cf" stroke-width=".5"><path d="M300.8 257.0 L307.0 247.2 L314.3 244.7 L320.0 247.0 L326.6 246.0 L331.5 242.3 L335.2 247.2 L332.7 253.3 L341.3 257.0 L347.4 264.3 L343.8 270.5 L331.5 269.2 L319.2 266.8 L309.4 270.5 L302.0 269.2 L298.4 263.1Z"/><path d="M378.1 243.5 L387.9 244.7 L385.4 250.8 L378.1 254.5 L380.5 264.3 L387.9 266.8 L389.1 276.6 L391.6 287.6 L385.4 290.0 L378.1 284.0 L373.2 274.0 L374.4 264.3 L370.7 257.0 L365.8 252.0 L372.0 246.0Z"/><path d="M296.5 268.8 L301.0 268.3 L301.5 270.3 L297.0 271.0Z"/><path d="M587.8 191.0 L589.0 193.0 L585.5 203.0 L583.0 209.5 L582.0 208.0 L584.5 199.0Z"/><path d="M307.5 153.0 L310.5 151.0 L314.5 153.0 L315.5 157.5 L313.0 160.5 L309.0 159.5Z"/></g>
<g fill-opacity=".8"><circle cx="276.5" cy="263.5" r="18.3" fill="#ffff00"/><circle cx="265.0" cy="256.1" r="18.3" fill="#ff0000"/><circle cx="358.0" cy="304.2" r="18.3" fill="#ffff00"/><circle cx="370.7" cy="320.2" r="18.3" fill="#ffff00"/><circle cx="379.5" cy="333.3" r="18.3" fill="#ffff00"/><circle cx="392.0" cy="338.0" r="18.3" fill="#ffff00"/><circle cx="397.0" cy="337.0" r="18.3" fill="#8c8c8c"/><circle cx="338.4" cy="398.2" r="18.3" fill="#528c52"/><circle cx="316.3" cy="429.3" r="18.3" fill="#ffff00"/><circle cx="453.0" cy="219.0" r="18.3" fill="#ffff00"/><circle cx="444.5" cy="268.5" r="18.3" fill="#ffff00"/><circle cx="465.0" cy="261.0" r="18.3" fill="#ff7e00"/><circle cx="579.0" cy="236.0" r="18.3" fill="#ff0000"/><circle cx="613.1" cy="274.7" r="18.3" fill="#99004c"/><circle cx="638.6" cy="265.9" r="18.3" fill="#ff0000"/><circle cx="631.8" cy="313.2" r="18.3" fill="#ff0000"/><circle cx="569.0" cy="315.3" r="18.3" fill="#ff7e00"/><circle cx="575.4" cy="353.0" r="18.3" fill="#ffff00"/><circle cx="602.5" cy="345.9" r="18.3" fill="#00e400"/><circle cx="579.4" cy="391.1" r="18.3" fill="#00e400"/><circle cx="579.8" cy="451.9" r="18.3" fill="#ffff00"/><circle cx="474.8" cy="323.6" r="18.3" fill="#8c8c8c"/><circle cx="522.2" cy="342.6" r="18.3" fill="#ff0000"/><circle cx="513.7" cy="346.5" r="18.3" fill="#ff0000"/><circle cx="502.8" cy="326.5" r="18.3" fill="#ff7e00"/><circle cx="458.2" cy="361.5" r="18.3" fill="#ffff00"/><circle cx="478.5" cy="366.4" r="18.3" fill="#ffff00"/><circle cx="485.0" cy="382.4" r="18.3" fill="#ffff00"/><circle cx="484.0" cy="406.6" r="18.3" fill="#ffff00"/></g>
<g class="lab"><text x="276.5" y="267.9">62</text><text x="266.1" y="261.1">160</text><text x="358.0" y="308.6">79</text><text x="370.7" y="324.6">88</text><text x="392.0" y="342.4">91</text><text x="397.0" y="341.4">N/A</text><text x="337.8" y="402.6">N/A</text><text x="379.5" y="337.8">92</text><text x="315.3" y="433.8">77</text><text x="453.0" y="223.4">66</text><text x="464.6" y="265.4">101</text><text x="446.0" y="272.4">60</text><text x="579.0" y="240.4">177</text><text x="613.9" y="279.4">210</text><text x="638.6" y="270.3">170</text><text x="631.8" y="317.6">154</text><text x="569.0" y="319.8">139</text><text x="575.4" y="357.4">87</text><text x="602.5" y="350.3">40</text><text x="579.4" y="395.6">41</text><text x="579.8" y="456.3">63</text><text x="474.8" y="328.1">N/A</text><text x="522.2" y="347.1">162</text><text x="513.7" y="350.9">155</text><text x="503.9" y="330.9">110</text><text x="459.0" y="365.9">68</text><text x="478.5" y="370.8">80</text><text x="485.0" y="386.8">81</text><text x="483.5" y="411.1">87</text></g>
</svg></div>
<div id="pw"><div id="tip"></div>
<div id="pop"><div class="tx">Bishkek<br>2019-02-21 7:00<br>PM (LT)</div>
<table><tr><th style="width:90.5px">Pollutant</th><th>AQI</th></tr><tr><td>PM2.5</td><td class="v">101</td></tr></table></div></div>
</body></html>
